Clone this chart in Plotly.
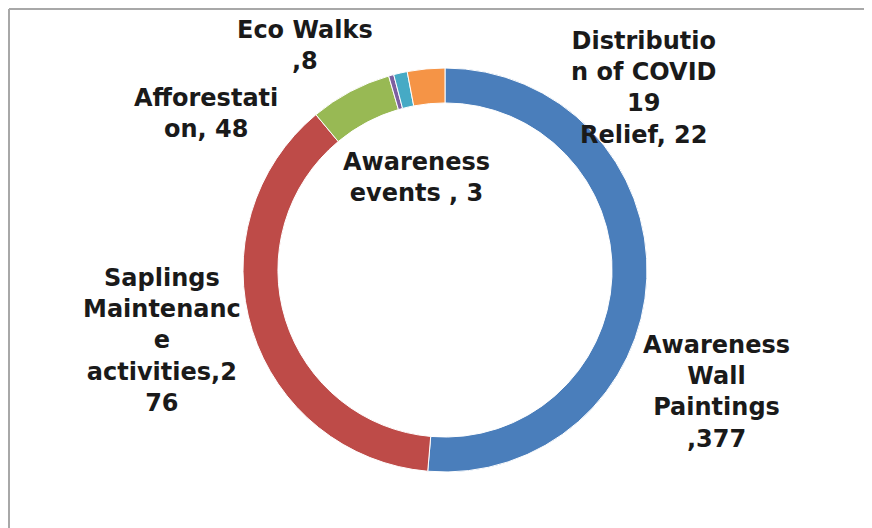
import plotly.graph_objects as go

categories = ["Awareness Wall Paintings", "Saplings Maintenance activities", "Afforestation",
              "Awareness events", "Eco Walks", "Distribution of COVID 19 Relief"]
values = [377, 276, 48, 3, 8, 22]
colors = ["#4A7EBB", "#BE4B48", "#98B954", "#7D60A0", "#46AAC5", "#F59446"]
label_lines = [
    ["Awareness", "Wall", "Paintings", ",377"],
    ["Saplings", "Maintenanc", "e", "activities,2", "76"],
    ["Afforestati", "on, 48"],
    ["Awareness", "events , 3"],
    ["Eco Walks", ",8"],
    ["Distributio", "n of COVID", "19", "Relief, 22"],
]

# page body has an 8px margin: figure pixel = screen pixel - 8
OFF = 8
W, H = 864, 520
cx, cy, r = 445 - OFF, 270 - OFF, 202
# label block centres in screen pixels (x, y from top)
label_pos = [(716, 392), (162, 340), (206, 114), (416, 178), (305, 46), (644, 88)]

fig = go.Figure(go.Pie(
    labels=categories, values=values, sort=False, direction="clockwise", rotation=0,
    hole=0.827, marker=dict(colors=colors, line=dict(color="white", width=1)),
    textinfo="none", hoverinfo="label+value", showlegend=False,
    domain=dict(x=[(cx - r) / W, (cx + r) / W], y=[(H - cy - r) / H, (H - cy + r) / H]),
))

for lines, (px, py) in zip(label_lines, label_pos):
    fig.add_annotation(x=(px - OFF) / W, y=1 - (py - OFF) / H, xref="paper", yref="paper",
                       text="<br>".join(lines), showarrow=False, align="center",
                       xanchor="center", yanchor="middle",
                       font=dict(family="DejaVu Sans", size=24, color="#1a1a1a", weight="bold"))

# chart frame (top and left edges visible)
fig.add_shape(type="line", xref="paper", yref="paper", x0=1 / W, x1=1.01, y0=1 - 1 / H, y1=1 - 1 / H,
              line=dict(color="#A8A8A8", width=2))
fig.add_shape(type="line", xref="paper", yref="paper", x0=1 / W, x1=1 / W, y0=-0.01, y1=1 - 1 / H,
              line=dict(color="#A8A8A8", width=2))

fig.update_layout(width=W, height=H, margin=dict(l=0, r=0, t=0, b=0),
                  paper_bgcolor="white", plot_bgcolor="white")
fig.write_html("out.html")
